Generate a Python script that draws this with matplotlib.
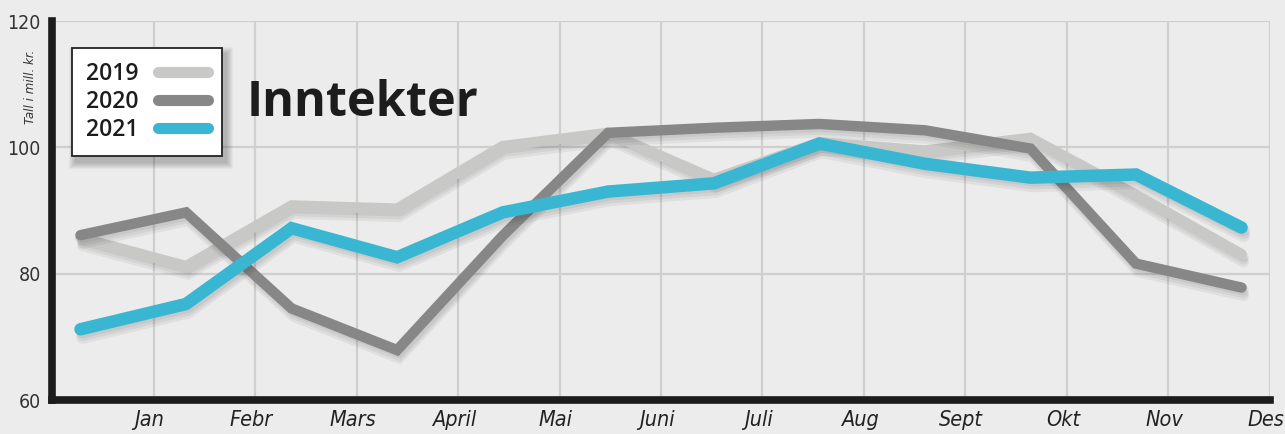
import matplotlib
matplotlib.use("Agg")
import matplotlib.pyplot as plt
import matplotlib.patheffects as pe
import matplotlib.transforms as mtrans
from matplotlib.patches import Rectangle
import numpy as np

months = ["Jan", "Febr", "Mars", "April", "Mai", "Juni",
          "Juli", "Aug", "Sept", "Okt", "Nov", "Des"]
inntekter_2019 = [85.7, 81.2, 90.8, 90.3, 100.2, 102.3, 95.0, 100.8, 99.5, 101.5, 92.5, 83.1]
inntekter_2020 = [86.1, 89.7, 74.5, 67.9, 86.0, 102.3, 103.1, 103.7, 102.7, 99.8, 81.6, 77.8]
inntekter_2021 = [71.2, 75.2, 87.2, 82.6, 89.7, 93.0, 94.3, 100.6, 97.4, 95.2, 95.7, 87.3]

bg = "#ececec"

fig = plt.figure(figsize=(12.85, 4.34), dpi=100, facecolor=bg)
ax = fig.add_axes([0.0405, 0.0783, 0.9478, 0.8733], facecolor=bg)
ax.set_xlim(0, 12)
ax.set_ylim(60, 120)

# points sit a bit off the month gridlines, spread evenly
x = np.linspace(0.28, 11.72, len(months))


def soft_shadow():
    return [pe.SimpleLineShadow(offset=(1.5, -2 * k), shadow_color="black", alpha=0.05)
            for k in (1, 2, 3)] + [pe.Normal()]


ax.plot(x, inntekter_2019, color="#c8c8c6", lw=7.5, solid_capstyle="round",
        solid_joinstyle="miter", label="2019", path_effects=soft_shadow(), zorder=3)
ax.plot(x, inntekter_2020, color="#878787", lw=7.5, solid_capstyle="round",
        solid_joinstyle="miter", label="2020", path_effects=soft_shadow(), zorder=4)
ax.plot(x, inntekter_2021, color="#39b7d2", lw=9, solid_capstyle="round",
        solid_joinstyle="miter", label="2021", path_effects=soft_shadow(), zorder=5)

ax.set_yticks([60, 80, 100, 120])
ax.set_xticks(np.arange(1, 13))
ax.set_xticklabels(months, family="DejaVu Sans", stretch="condensed", style="italic",
                   fontsize=15.5, color="#222222")
ax.set_yticklabels(["60", "80", "100", "120"], family="DejaVu Sans", stretch="condensed",
                   fontsize=14, color="#333333")
ax.tick_params(length=0, pad=8)
ax.tick_params(axis="x", pad=7)
shift = mtrans.ScaledTranslation(-3 / 72, 0, fig.dpi_scale_trans)
for lab in ax.get_xticklabels():
    lab.set_transform(lab.get_transform() + shift)

ax.grid(True, color="#cfcfcf", lw=1.6)
ax.set_axisbelow(True)
for s in ["top", "right"]:
    ax.spines[s].set_visible(False)
for s in ["left", "bottom"]:
    ax.spines[s].set_linewidth(5.5)
    ax.spines[s].set_color("#1c1c1c")
    ax.spines[s].set_capstyle("projecting")

fig.text(0.024, 0.80, "Tall i mill. kr.", rotation=90, ha="center", va="center",
         family="DejaVu Sans", stretch="condensed", style="italic", fontsize=9.5,
         color="#333333")

leg = ax.legend(loc="upper left", bbox_to_anchor=(0.016, 0.93), markerfirst=False,
                handlelength=2.2, handletextpad=0.85, labelspacing=0.17,
                borderpad=0.62, borderaxespad=0, fancybox=False, shadow=False,
                framealpha=1.0,
                prop={"family": "Open Sans", "weight": "semibold", "size": 16.5})
leg.set_zorder(10)
leg.get_frame().set_edgecolor("#222222")
leg.get_frame().set_linewidth(1.3)
leg.get_frame().set_facecolor("white")
for line in leg.get_lines():
    line.set_path_effects([])
    line.set_solid_capstyle("round")
    line.set_linewidth(8)
for t in leg.get_texts():
    t.set_color("#1c1c1c")

ax.text(1.92, 105.0, "Inntekter", family="Open Sans", weight="bold", fontsize=35,
        color="#1c1c1c", ha="left", va="baseline")

# soft drop shadow behind the legend box
fig.canvas.draw()
bb = leg.get_frame().get_window_extent()
for k in range(1, 8):
    ax.add_patch(Rectangle((bb.x0 + 4 - k, bb.y0 - 6 - k), bb.width + 2 * k, bb.height + 2 * k,
                           transform=None, facecolor="black", edgecolor="none",
                           alpha=0.035, zorder=9))

fig.savefig("out.png", dpi=100, facecolor=bg)
